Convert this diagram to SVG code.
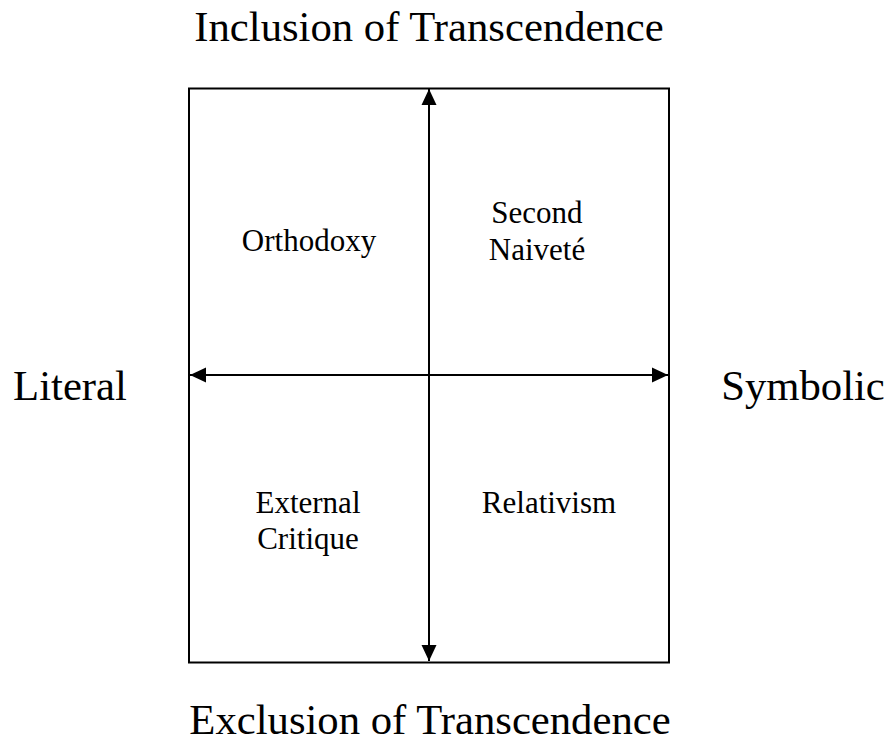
<svg xmlns="http://www.w3.org/2000/svg" width="885" height="740" viewBox="0 0 885 740">
<style>
.t{font-family:"Liberation Serif","Times New Roman",serif;fill:#000;text-anchor:middle}
.big{font-size:42.7px}
.q{font-size:31px}
.ln{stroke:#000;stroke-width:2;fill:none}
</style>
<defs>
<marker id="ah" markerUnits="userSpaceOnUse" markerWidth="16" markerHeight="16" viewBox="0 0 16 16" refX="16" refY="8" orient="auto-start-reverse">
<path d="M0,0.5 L16,8 L0,15.5 Z" fill="#000"/>
</marker>
</defs>
<rect width="885" height="740" fill="#fff"/>
<g id="frame">
<rect class="ln" x="189" y="88.5" width="480" height="574"/>
</g>
<g id="connectors">
<line class="ln" x1="429" y1="661" x2="429" y2="89" marker-start="url(#ah)" marker-end="url(#ah)"/>
<line class="ln" x1="190" y1="375" x2="668" y2="375" marker-start="url(#ah)" marker-end="url(#ah)"/>
</g>
<g id="top-label"><text class="t big" x="429" y="41">Inclusion of Transcendence</text></g>
<g id="bottom-label"><text class="t big" x="430" y="734">Exclusion of Transcendence</text></g>
<g id="left-label"><text class="t big" x="70" y="400">Literal</text></g>
<g id="right-label"><text class="t big" x="803" y="400">Symbolic</text></g>
<g id="orthodoxy"><text class="t q" x="309" y="251">Orthodoxy</text></g>
<g id="second-naivete"><text class="t q" x="537" y="223">Second</text><text class="t q" x="537" y="260">Naiveté</text></g>
<g id="external-critique"><text class="t q" x="308" y="513">External</text><text class="t q" x="308" y="549">Critique</text></g>
<g id="relativism"><text class="t q" x="549" y="513">Relativism</text></g>
</svg>
